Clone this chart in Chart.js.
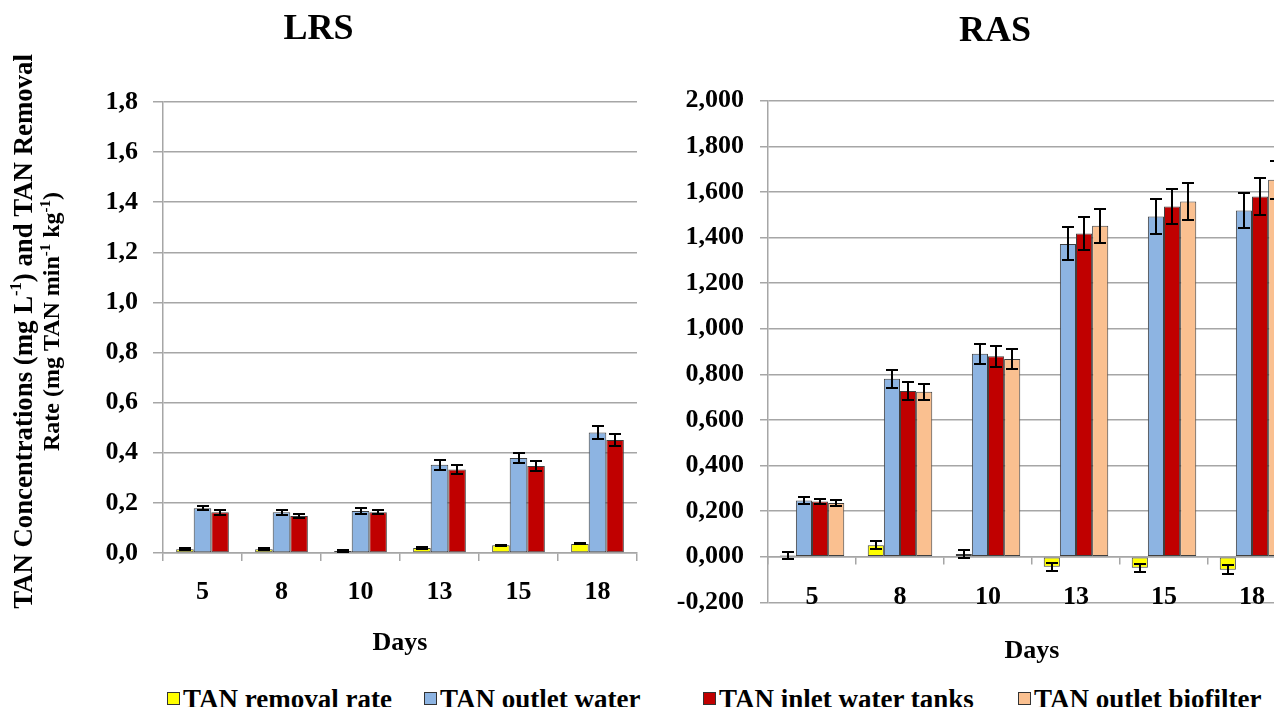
<!DOCTYPE html>
<html>
<head>
<meta charset="utf-8">
<script src="https://cdn.jsdelivr.net/npm/chart.js@4.4.1/dist/chart.umd.min.js"></script>
<style>
  html, body { margin: 0; padding: 0; background: #fff; overflow: hidden; }
  #wrap { position: relative; width: 1274px; height: 707px; overflow: hidden; background: #fff; }
  canvas { position: absolute; top: 0; }
  #lrs { left: 0; }
  #ras { left: 650px; }
  .item { position: absolute; top: 684px; font: bold 27px 'Liberation Serif', 'Times New Roman', serif; line-height: 30px; color: #000; white-space: nowrap; }
  .key { position: absolute; top: 692px; width: 11px; height: 11px; border: 1px solid #333; }
</style>
</head>
<body>
<div id="wrap">
  <canvas id="lrs" width="660" height="670"></canvas>
  <canvas id="ras" width="690" height="680"></canvas>
  <div id="legend"></div>
</div>
<script>
// Sampling days
const days = ['5', '8', '10', '13', '15', '18'];

// Series names and fills
const seriesNames = ['TAN removal rate', 'TAN outlet water', 'TAN inlet water tanks', 'TAN outlet biofilter'];
const seriesColors = ['#FFFF00', '#8DB4E2', '#C00000', '#FAC090'];

// LRS: means and standard deviations
const lrsRemoval    = [0.015, 0.015, 0.008, 0.020, 0.031, 0.036];
const lrsRemovalErr = [0.004, 0.004, 0.003, 0.004, 0.002, 0.002];
const lrsOutlet     = [0.179, 0.163, 0.168, 0.352, 0.379, 0.481];
const lrsOutletErr  = [0.009, 0.010, 0.012, 0.019, 0.019, 0.027];
const lrsInlet      = [0.163, 0.148, 0.163, 0.333, 0.347, 0.451];
const lrsInletErr   = [0.010, 0.009, 0.009, 0.019, 0.019, 0.024];

// RAS: means and standard deviations
const rasRemoval      = [0.005, 0.050, 0.012, -0.044, -0.049, -0.057];
const rasRemovalErr   = [0.015, 0.017, 0.018, 0.018, 0.017, 0.020];
const rasOutlet       = [0.247, 0.781, 0.890, 1.372, 1.492, 1.518];
const rasOutletErr    = [0.015, 0.040, 0.045, 0.072, 0.075, 0.077];
const rasInlet        = [0.242, 0.727, 0.879, 1.418, 1.536, 1.580];
const rasInletErr     = [0.013, 0.038, 0.045, 0.072, 0.077, 0.080];
const rasBiofilter    = [0.236, 0.723, 0.867, 1.451, 1.558, 1.653];
const rasBiofilterErr = [0.012, 0.034, 0.044, 0.074, 0.080, 0.083];

// Value axes
const lrsAxis = { min: 0, max: 1.8, step: 0.2, decimals: 1 };
const rasAxis = { min: -0.2, max: 2.0, step: 0.2, decimals: 3 };

// Value-axis title, split in runs so the units can carry superscripts
const yTitleLine1 = [{ t: 'TAN Concentrations (mg L' }, { t: '-1', sup: true }, { t: ') and TAN Removal' }];
const yTitleLine2 = [{ t: 'Rate (mg TAN min' }, { t: '-1', sup: true }, { t: ' kg' }, { t: '-1', sup: true }, { t: ')' }];

const FONT = "'Liberation Serif', 'Times New Roman', serif";
Chart.defaults.font.family = FONT;
Chart.defaults.color = '#000';

const GRID = '#a6a6a6';
const tickFont = { size: 26, weight: 'bold' };

const commaFormat = d => v => v.toFixed(d).replace('.', ',');

// Symmetric error bars from each dataset's `errors` array
const errorBars = {
  id: 'errorBars',
  afterDatasetsDraw(chart) {
    const ctx = chart.ctx;
    const yScale = chart.scales.y;
    ctx.save();
    ctx.strokeStyle = '#000';
    ctx.lineWidth = 2;
    chart.data.datasets.forEach((ds, i) => {
      if (!ds.errors) return;
      const meta = chart.getDatasetMeta(i);
      meta.data.forEach((bar, j) => {
        const v = ds.data[j], e = ds.errors[j];
        const yTop = Math.round(yScale.getPixelForValue(v + e));
        const yBot = Math.round(yScale.getPixelForValue(v - e));
        const x = Math.round(bar.x);
        const half = 6;
        ctx.beginPath();
        ctx.moveTo(x, yTop); ctx.lineTo(x, yBot);
        ctx.moveTo(x - half, yTop); ctx.lineTo(x + half, yTop);
        ctx.moveTo(x - half, yBot); ctx.lineTo(x + half, yBot);
        ctx.stroke();
      });
    });
    ctx.restore();
  }
};

// Rotated two-line axis title with superscript runs
const axisTitle = {
  id: 'axisTitle',
  afterDraw(chart, args, opts) {
    if (!opts.lines) return;
    const ctx = chart.ctx;
    const area = chart.chartArea;
    const mid = (area.top + area.bottom) / 2;
    const fontOf = s => `bold ${s}px ${FONT}`;
    ctx.save();
    ctx.fillStyle = '#000';
    ctx.textBaseline = 'middle';
    ctx.textAlign = 'left';
    opts.lines.forEach((runs, li) => {
      const size = opts.sizes[li];
      const supSize = size * 0.62;
      let w = 0;
      runs.forEach(r => { ctx.font = fontOf(r.sup ? supSize : size); w += ctx.measureText(r.t).width; });
      ctx.save();
      ctx.translate(opts.x[li], mid + opts.shift[li]);
      ctx.rotate(-Math.PI / 2);
      let x = -w / 2;
      runs.forEach(r => {
        ctx.font = fontOf(r.sup ? supSize : size);
        ctx.fillText(r.t, x, r.sup ? -size * 0.3 : 0);
        x += ctx.measureText(r.t).width;
      });
      ctx.restore();
    });
    ctx.restore();
  }
};

function barSet(i, data, errors) {
  return { label: seriesNames[i], data, errors, backgroundColor: seriesColors[i],
           borderColor: '#404040', borderWidth: 1, borderSkipped: false,
           xAxisID: 'x', yAxisID: 'y' };
}

// LRS panel
new Chart(document.getElementById('lrs'), {
  type: 'bar',
  data: {
    labels: days,
    datasets: [
      barSet(0, lrsRemoval, lrsRemovalErr),
      barSet(1, lrsOutlet, lrsOutletErr),
      barSet(2, lrsInlet, lrsInletErr)
    ]
  },
  options: {
    responsive: false,
    animation: false,
    layout: { padding: { left: 0, right: 23, top: 0, bottom: 0 } },
    datasets: { bar: { categoryPercentage: 0.667, barPercentage: 1 } },
    plugins: {
      legend: { display: false },
      tooltip: { enabled: false },
      title: { display: true, text: 'LRS', font: { size: 36, weight: 'bold' }, padding: { top: 8, bottom: 50.8 } },
      axisTitle: { lines: [yTitleLine1, yTitleLine2], sizes: [26.8, 24], x: [25, 53], shift: [4, -6] }
    },
    scales: {
      x: {
        offset: true,
        grid: { offset: true, drawOnChartArea: false, color: GRID, lineWidth: 1.5, tickLength: 8 },
        border: { color: GRID, width: 1.5 },
        ticks: { font: tickFont, padding: 16 },
        title: { display: true, text: 'Days', font: tickFont, padding: { top: 0, bottom: 11 } },
        afterFit: s => { s.height = 117; }
      },
      y: {
        min: lrsAxis.min, max: lrsAxis.max,
        ticks: { stepSize: lrsAxis.step, font: tickFont, padding: 15, callback: commaFormat(lrsAxis.decimals) },
        grid: { color: GRID, lineWidth: 1.5, tickLength: 10 },
        border: { color: GRID, width: 1.5 },
        afterFit: s => { s.width = 163; }
      }
    }
  },
  plugins: [errorBars, axisTitle]
});

// RAS panel
new Chart(document.getElementById('ras'), {
  type: 'bar',
  data: {
    labels: days,
    datasets: [
      barSet(0, rasRemoval, rasRemovalErr),
      barSet(1, rasOutlet, rasOutletErr),
      barSet(2, rasInlet, rasInletErr),
      barSet(3, rasBiofilter, rasBiofilterErr)
    ]
  },
  options: {
    responsive: false,
    animation: false,
    layout: { padding: 0 },
    datasets: { bar: { categoryPercentage: 0.733, barPercentage: 1 } },
    plugins: {
      legend: { display: false },
      tooltip: { enabled: false },
      title: { display: true, text: 'RAS', font: { size: 36, weight: 'bold' }, padding: { top: 10, bottom: 47.5 } }
    },
    scales: {
      // category axis drawn along the zero line, with the day labels below the plot
      x: {
        axis: 'x', type: 'category', position: { y: 0 },
        offset: true,
        grid: { offset: true, drawOnChartArea: false, color: GRID, lineWidth: 1.5, tickLength: 7 },
        border: { color: GRID, width: 1.5 },
        ticks: { font: tickFont, padding: 17.7 }
      },
      // bottom band holding the axis title
      xb: {
        axis: 'x', type: 'category', position: 'bottom',
        offset: true,
        grid: { display: false },
        border: { display: false },
        ticks: { display: false },
        title: { display: true, text: 'Days', font: tickFont, padding: { top: 0, bottom: 13 } },
        afterFit: s => { s.height = 77.7; }
      },
      y: {
        min: rasAxis.min, max: rasAxis.max,
        ticks: { stepSize: rasAxis.step, font: tickFont, padding: 16, callback: commaFormat(rasAxis.decimals) },
        grid: { color: GRID, lineWidth: 1.5, tickLength: 8 },
        border: { color: GRID, width: 1.5 },
        afterFit: s => { s.width = 118; }
      },
      // empty margin on the right of the plot
      yr: {
        axis: 'y', type: 'linear', position: 'right',
        grid: { display: false },
        border: { display: false },
        ticks: { display: false },
        afterFit: s => { s.width = 44; }
      }
    }
  },
  plugins: [errorBars]
});

// Shared legend
const legendX = [167, 424, 703, 1018];
const legend = document.getElementById('legend');
seriesNames.forEach((name, i) => {
  const key = document.createElement('div');
  key.className = 'key';
  key.style.left = legendX[i] + 'px';
  key.style.background = seriesColors[i];
  legend.appendChild(key);
  const txt = document.createElement('div');
  txt.className = 'item';
  txt.style.left = (legendX[i] + 16) + 'px';
  txt.textContent = name;
  legend.appendChild(txt);
});
</script>
</body>
</html>
